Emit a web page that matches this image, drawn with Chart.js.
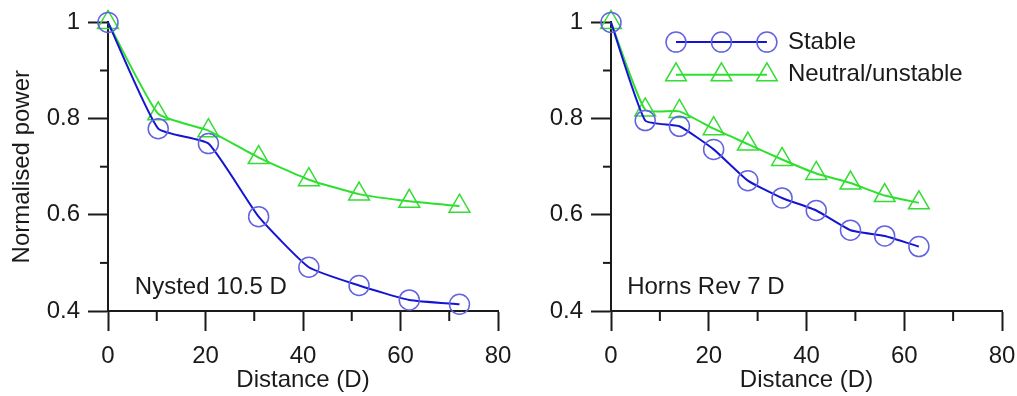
<!DOCTYPE html>
<html>
<head>
<meta charset="utf-8">
<script src="https://cdn.jsdelivr.net/npm/chart.js@4"></script>
<style>
  html, body { margin: 0; padding: 0; background: #fff; overflow: hidden; }
  #wrap { position: relative; width: 1017px; height: 396px; overflow: hidden; }
  #left { position: absolute; left: 0; top: 0; }
  #right { position: absolute; left: 517px; top: 0; }
</style>
</head>
<body>
<div id="wrap">
  <canvas id="left" width="517" height="396"></canvas>
  <canvas id="right" width="504" height="396"></canvas>
</div>
<script>
// values
const nystedDist = [0, 10.3, 20.6, 30.9, 41.2, 51.5, 61.8, 72.1];
const nystedStable = [1.0, 0.779, 0.748, 0.596, 0.491, 0.453, 0.423, 0.414];
const nystedNeutral = [1.0, 0.810, 0.775, 0.719, 0.673, 0.643, 0.628, 0.618];

const hornsDist = [0, 7, 14, 21, 28, 35, 42, 49, 56, 63];
const hornsStable = [1.0, 0.796, 0.784, 0.736, 0.671, 0.635, 0.609, 0.568, 0.556, 0.534];
const hornsNeutral = [1.0, 0.818, 0.815, 0.779, 0.747, 0.715, 0.686, 0.666, 0.640, 0.625];

const xTicks = [0, 20, 40, 60, 80];
const yTicks = [0.4, 0.6, 0.8, 1];
const seriesNames = ["Stable", "Neutral/unstable"];

const blueLine = "#1414d2";
const blueMark = "#6262e2";
const greenLine = "#2ee02e";
const greenMark = "#34dc34";
const ink = "#1a1a1a";

Chart.defaults.font.family = "'Liberation Sans', Arial, sans-serif";
Chart.defaults.font.size = 24;
Chart.defaults.color = ink;

const isMajor = (list, v) => list.some((t) => Math.abs(t - v) < 1e-6);

// short unlabelled ticks at 10, 30 ... and 0.5, 0.7, 0.9
const minorTicks = {
  id: "minorTicks",
  afterDraw(chart) {
    const { ctx, scales, chartArea } = chart;
    ctx.save();
    ctx.strokeStyle = ink;
    ctx.lineWidth = 2;
    scales.x.ticks.forEach((t) => {
      if (isMajor(xTicks, t.value)) return;
      const px = scales.x.getPixelForValue(t.value);
      ctx.beginPath();
      ctx.moveTo(px, chartArea.bottom);
      ctx.lineTo(px, chartArea.bottom + 10);
      ctx.stroke();
    });
    scales.y.ticks.forEach((t) => {
      if (isMajor(yTicks, t.value)) return;
      const py = scales.y.getPixelForValue(t.value);
      ctx.beginPath();
      ctx.moveTo(chartArea.left - 8, py);
      ctx.lineTo(chartArea.left, py);
      ctx.stroke();
    });
    ctx.restore();
  },
};

const panelLabel = {
  id: "panelLabel",
  afterDraw(chart, args, opts) {
    if (!opts.text) return;
    const { ctx, scales } = chart;
    ctx.save();
    ctx.font = "24px 'Liberation Sans', Arial, sans-serif";
    ctx.fillStyle = ink;
    ctx.textAlign = "left";
    ctx.textBaseline = "middle";
    ctx.fillText(opts.text, scales.x.getPixelForValue(opts.x), scales.y.getPixelForValue(opts.y));
    ctx.restore();
  },
};

// legend with three markers on each line, like the original
const lineKey = {
  id: "lineKey",
  afterDraw(chart, args, opts) {
    if (!opts.rows) return;
    const { ctx, scales } = chart;
    const x0 = scales.x.getPixelForValue(opts.x0);
    const x1 = scales.x.getPixelForValue(opts.x1);
    const tx = scales.x.getPixelForValue(opts.textX);
    chart.data.datasets.forEach((ds, i) => {
      const y = scales.y.getPixelForValue(opts.rows[i]);
      ctx.save();
      ctx.strokeStyle = ds.borderColor;
      ctx.lineWidth = 2;
      ctx.beginPath();
      ctx.moveTo(x0, y);
      ctx.lineTo(x1, y);
      ctx.stroke();
      ctx.strokeStyle = ds.pointBorderColor;
      ctx.lineWidth = ds.pointBorderWidth;
      [x0, (x0 + x1) / 2, x1].forEach((px) => {
        Chart.helpers.drawPoint(ctx, {
          pointStyle: ds.pointStyle,
          radius: ds.pointRadius,
          rotation: 0,
          borderWidth: ds.pointBorderWidth,
        }, px, y);
      });
      ctx.fillStyle = ink;
      ctx.font = "24px 'Liberation Sans', Arial, sans-serif";
      ctx.textAlign = "left";
      ctx.textBaseline = "middle";
      ctx.fillText(ds.label, tx, y);
      ctx.restore();
    });
  },
};

function makeDatasets(dist, stable, neutral) {
  return [
    {
      label: seriesNames[0],
      data: dist.map((d, i) => ({ x: d, y: stable[i] })),
      borderColor: blueLine,
      borderWidth: 2,
      pointStyle: "circle",
      pointRadius: 10,
      pointBorderWidth: 1.5,
      pointBorderColor: blueMark,
      pointBackgroundColor: "rgba(0,0,0,0)",
      tension: 0.15,
      clip: false,
    },
    {
      label: seriesNames[1],
      data: dist.map((d, i) => ({ x: d, y: neutral[i] })),
      borderColor: greenLine,
      borderWidth: 2,
      pointStyle: "triangle",
      pointRadius: 12,
      pointBorderWidth: 1.5,
      pointBorderColor: greenMark,
      pointBackgroundColor: "rgba(0,0,0,0)",
      tension: 0.15,
      clip: false,
    },
  ];
}

function makeChart(id, datasets, opts) {
  return new Chart(document.getElementById(id), {
    type: "line",
    data: { datasets: datasets },
    plugins: [minorTicks, panelLabel, lineKey],
    options: {
      responsive: false,
      animation: false,
      layout: { padding: { top: 19, right: 19, bottom: 0, left: 0 } },
      plugins: {
        legend: { display: false },
        tooltip: { enabled: false },
        panelLabel: opts.label,
        lineKey: opts.key || {},
      },
      scales: {
        x: {
          type: "linear",
          min: 0,
          max: 80,
          afterFit: (s) => {
            s.height = 85;
            s.paddingLeft = 0;
            s.paddingRight = 0;
          },
          ticks: {
            stepSize: 10,
            padding: 13,
            maxRotation: 0,
            font: { lineHeight: 1 },
            callback: (v) => (isMajor(xTicks, v) ? String(v) : ""),
          },
          grid: {
            drawOnChartArea: false,
            drawTicks: true,
            tickLength: 20,
            tickWidth: 2,
            tickColor: (c) => (c.tick && isMajor(xTicks, c.tick.value) ? ink : "rgba(0,0,0,0)"),
          },
          border: { display: true, color: ink, width: 2 },
          title: {
            display: true,
            text: "Distance (D)",
            font: { lineHeight: 1.1 },
            padding: { top: 0, bottom: 2 },
          },
        },
        y: {
          type: "linear",
          min: 0.4,
          max: 1,
          afterFit: (s) => { s.width = opts.yWidth; },
          ticks: {
            stepSize: 0.1,
            padding: 8,
            callback: (v) => (isMajor(yTicks, v) ? String(+v.toFixed(1)) : ""),
          },
          grid: {
            drawOnChartArea: false,
            drawTicks: true,
            tickLength: 20,
            tickWidth: 2,
            tickColor: (c) => (c.tick && isMajor(yTicks, c.tick.value) ? ink : "rgba(0,0,0,0)"),
          },
          border: { display: true, color: ink, width: 2 },
          title: {
            display: opts.yTitle,
            text: "Normalised power",
            padding: { top: 8, bottom: 0 },
          },
        },
      },
    },
  });
}

makeChart("left", makeDatasets(nystedDist, nystedStable, nystedNeutral), {
  yWidth: 108,
  yTitle: true,
  label: { text: "Nysted 10.5 D", x: 5.5, y: 0.449 },
});

makeChart("right", makeDatasets(hornsDist, hornsStable, hornsNeutral), {
  yWidth: 94,
  yTitle: false,
  label: { text: "Horns Rev 7 D", x: 3.3, y: 0.449 },
  key: { x0: 13.3, x1: 31.9, textX: 36.2, rows: [0.959, 0.891] },
});
</script>
</body>
</html>
